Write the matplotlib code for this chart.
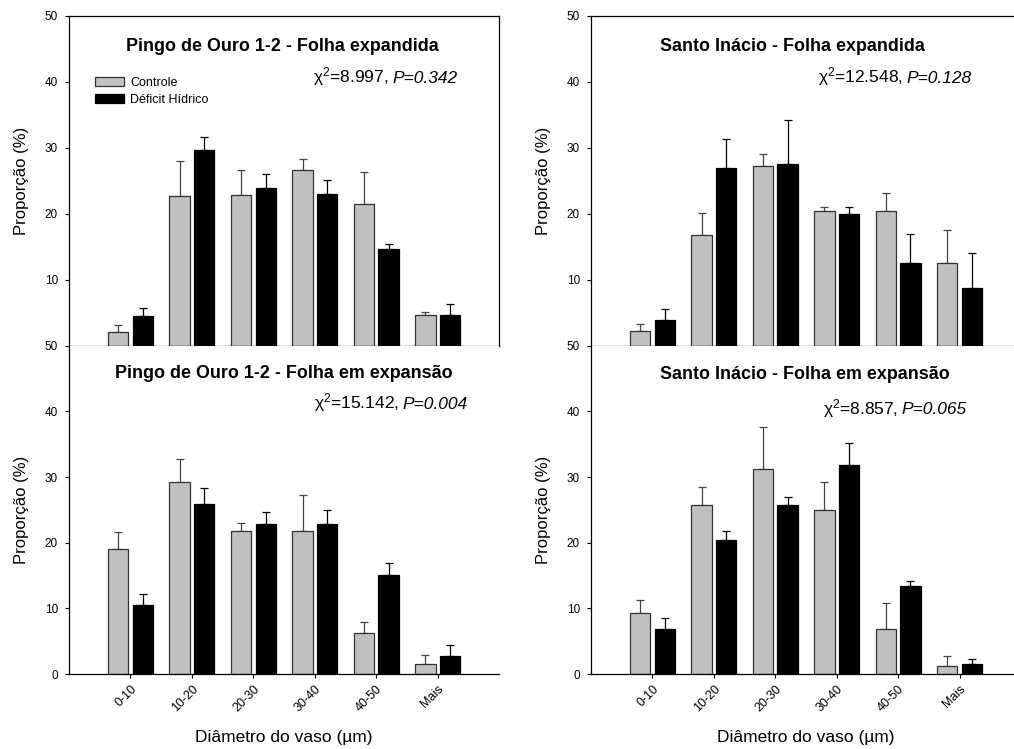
import numpy as np
import matplotlib
matplotlib.use('Agg')
import matplotlib.pyplot as plt
from matplotlib.transforms import ScaledTranslation

plt.rcParams['font.family'] = ['Liberation Sans', 'DejaVu Sans']
plt.rcParams['mathtext.fontset'] = 'custom'
plt.rcParams['mathtext.rm'] = 'Liberation Sans'
plt.rcParams['mathtext.it'] = 'Liberation Sans:italic'

# classes of vessel diameter
classes = ['0-10', '10-20', '20-30', '30-40', '40-50', 'Mais']

# Pingo de Ouro 1-2 - Folha expandida
po_exp_ctrl = [2.0, 22.7, 22.8, 26.7, 21.5, 4.6]
po_exp_ctrl_err = [1.2, 5.3, 3.9, 1.6, 4.8, 0.45]
po_exp_def = [4.5, 29.6, 23.9, 23.0, 14.7, 4.6]
po_exp_def_err = [1.2, 2.0, 2.1, 2.1, 0.75, 1.65]

# Pingo de Ouro 1-2 - Folha em expansao
po_emx_ctrl = [19.0, 29.3, 21.8, 21.8, 6.2, 1.6]
po_emx_ctrl_err = [2.7, 3.4, 1.2, 5.5, 1.8, 1.3]
po_emx_def = [10.55, 25.9, 22.8, 22.8, 15.15, 2.7]
po_emx_def_err = [1.6, 2.5, 1.9, 2.2, 1.8, 1.8]

# Santo Inacio - Folha expandida
si_exp_ctrl = [2.27, 16.8, 27.2, 20.45, 20.45, 12.6]
si_exp_ctrl_err = [1.05, 3.3, 1.9, 0.55, 2.75, 4.9]
si_exp_def = [3.9, 27.0, 27.6, 20.0, 12.6, 8.7]
si_exp_def_err = [1.6, 4.3, 6.6, 1.1, 4.4, 5.4]

# Santo Inacio - Folha em expansao
si_emx_ctrl = [9.3, 25.8, 31.2, 25.0, 6.9, 1.3]
si_emx_ctrl_err = [2.0, 2.7, 6.4, 4.3, 3.9, 1.4]
si_emx_def = [6.8, 20.4, 25.7, 31.9, 13.4, 1.5]
si_emx_def_err = [1.7, 1.4, 1.3, 3.25, 0.85, 0.85]

panels = [
    # title, chi, P, ctrl, ctrl_err, def, def_err, rect, title_xy, chi_xy, top
    ('Pingo de Ouro 1-2 - Folha expandida', '8.997', '0.342',
     po_exp_ctrl, po_exp_ctrl_err, po_exp_def, po_exp_def_err,
     [0.0681, 0.5385, 0.4241, 0.4402], (3.48, 45.3), (6.32, 39.9), True),
    ('Santo Inácio - Folha expandida', '12.548', '0.128',
     si_exp_ctrl, si_exp_ctrl_err, si_exp_def, si_exp_def_err,
     [0.5828, 0.5385, 0.4241, 0.4402], (3.28, 45.3), (6.20, 39.9), True),
    ('Pingo de Ouro 1-2 - Folha em expansão', '15.142', '0.004',
     po_emx_ctrl, po_emx_ctrl_err, po_emx_def, po_emx_def_err,
     [0.0681, 0.0999, 0.4241, 0.4386], (3.49, 45.7), (6.49, 40.4), False),
    ('Santo Inácio - Folha em expansão', '8.857', '0.065',
     si_emx_ctrl, si_emx_ctrl_err, si_emx_def, si_emx_def_err,
     [0.5828, 0.0999, 0.4241, 0.4386], (3.48, 45.6), (6.12, 39.6), False),
]

fig = plt.figure(figsize=(10.14, 7.49), dpi=100)
renderer = fig.canvas.get_renderer()
x = np.arange(1, len(classes) + 1)
w = 0.33

for i, (title, chi, p, c, ce, d, de, rect, txy, cxy, top) in enumerate(panels):
    ax = fig.add_axes(rect)
    b1 = ax.bar(x - 0.2, c, w, color='#c0c0c0', edgecolor='#333333', linewidth=0.9,
                label='Controle', zorder=2)
    b2 = ax.bar(x + 0.2, d, w, color='black', edgecolor='black', linewidth=0.9,
                label='Déficit Hídrico', zorder=2)
    ax.errorbar(x - 0.2, c, yerr=[np.zeros(len(c)), ce], fmt='none', ecolor='#444444',
                elinewidth=0.9, capsize=3.2, capthick=0.9, zorder=1)
    ax.errorbar(x + 0.2, d, yerr=[np.zeros(len(d)), de], fmt='none', ecolor='black',
                elinewidth=0.9, capsize=3.2, capthick=0.9, zorder=1)

    ax.set_xlim(0, 7)
    ax.set_ylim(0, 50)
    ax.set_yticks([0, 10, 20, 30, 40, 50])
    ax.set_xticks(x)
    ax.tick_params(direction='out', length=3, width=0.8, labelsize=8.5)
    ax.tick_params(axis='y', pad=5)
    for s in ax.spines.values():
        s.set_linewidth(0.9)
    if top:
        ax.set_xticklabels([])
        # the 0 of the upper panel sits under the 50 of the lower one
        ax.set_yticklabels(['', '10', '20', '30', '40', '50'])
    else:
        ax.set_xticklabels(classes, rotation=45, ha='right', rotation_mode='anchor',
                           fontsize=9)
        ax.spines['top'].set_visible(False)
        ax.spines['right'].set_visible(False)
        ax.set_xlabel('Diâmetro do vaso (µm)', fontsize=12.5)
        ax.xaxis.set_label_coords(0.5, -0.17)

    ax.set_ylabel('Proporção (%)', fontsize=12)
    ax.yaxis.set_label_coords(-0.094, 0.5)

    ax.text(txy[0], txy[1], title, ha='center', va='center', fontsize=12.9,
            fontweight='bold')
    # italic P part, then the chi-square part placed to its left
    tp = ax.text(cxy[0], cxy[1], 'P=' + p, ha='right', va='baseline',
                 fontsize=12.5, style='italic')
    bb = tp.get_window_extent(renderer)
    shift = ScaledTranslation(-(bb.width + 4) / fig.dpi, 0, fig.dpi_scale_trans)
    ax.text(cxy[0], cxy[1], 'χ$^{2}$=' + chi + ',', ha='right', va='baseline',
            fontsize=12.5, transform=ax.transData + shift)

    if i == 0:
        ax.legend(handles=[b1, b2], loc='upper left', bbox_to_anchor=(0.06, 0.815),
                  frameon=False, fontsize=9, borderpad=0, borderaxespad=0,
                  handlelength=2.3, handleheight=0.7, handletextpad=0.55,
                  labelspacing=0.4)

fig.savefig('out.png', dpi=100)
